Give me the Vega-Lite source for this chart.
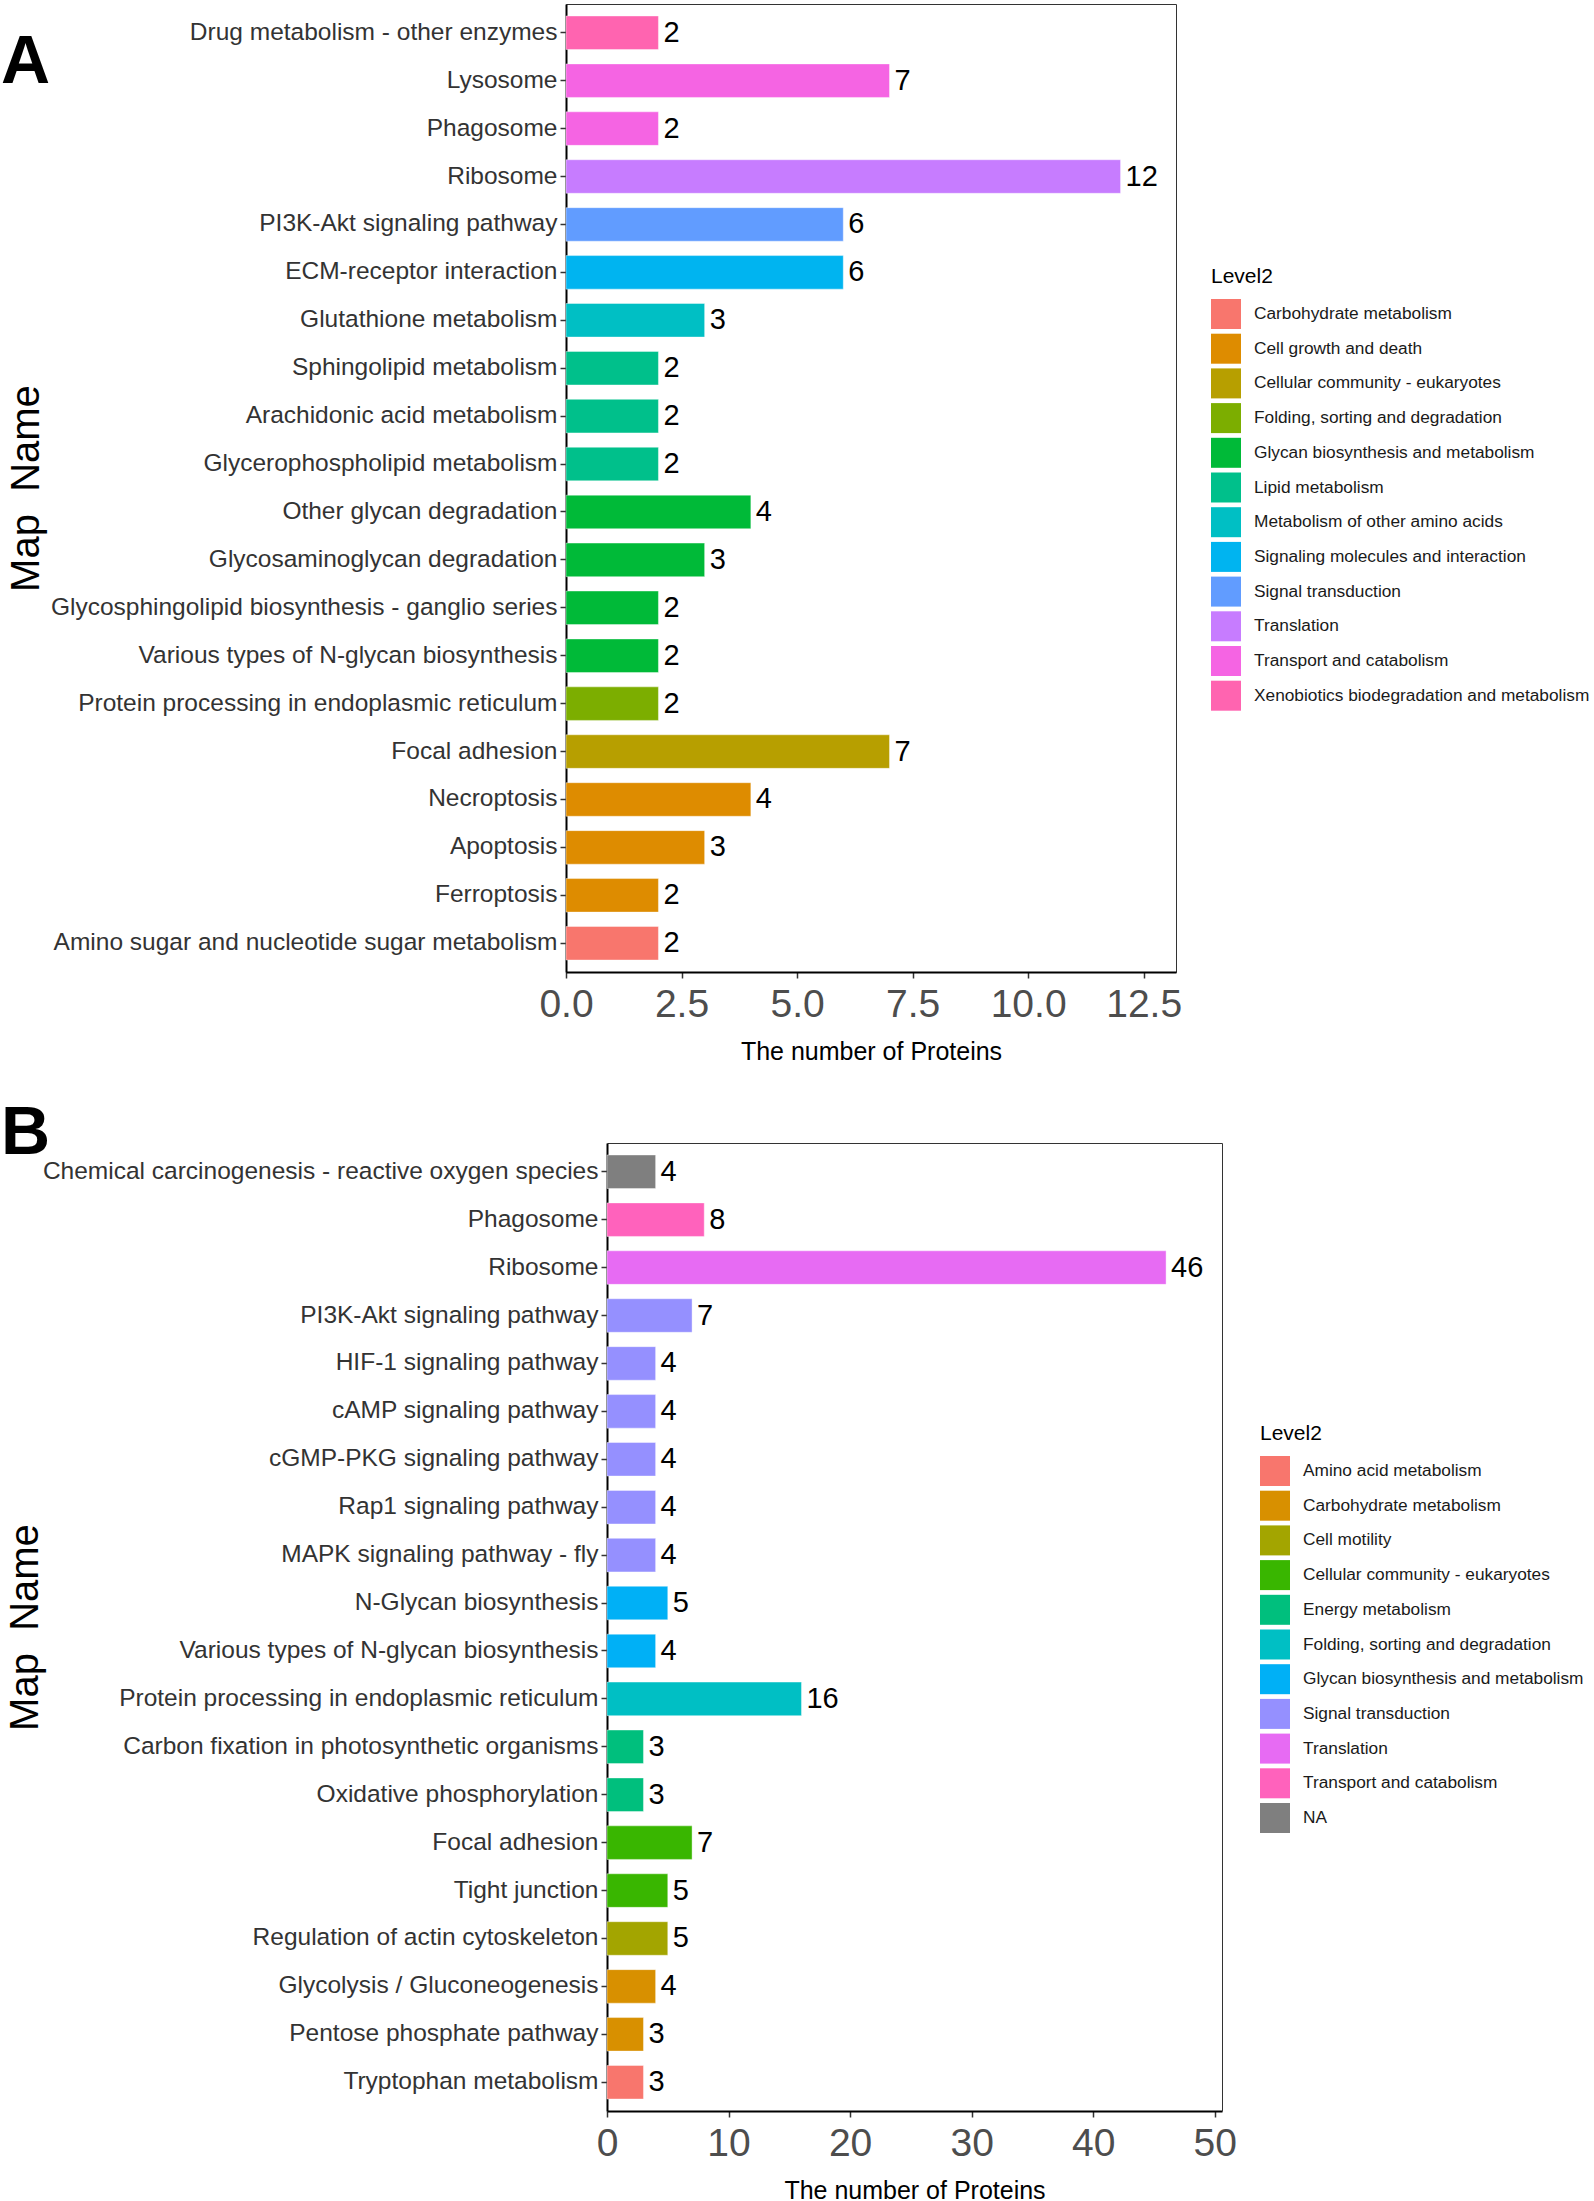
{
  "$schema": "https://vega.github.io/schema/vega-lite/v6.json",
  "background": "white",
  "padding": {"left": 0, "top": 3, "right": 0, "bottom": 0},
  "spacing": 35,
  "config": {
    "font": "Liberation Sans",
    "axis": {"grid": false, "maxExtent": 1000},
    "view": {"stroke": "#333333", "strokeWidth": 1},
    "legend": {
      "titleFont": "Liberation Sans", "titleFontSize": 21, "titleFontWeight": "normal", "titleColor": "black",
      "labelFont": "Liberation Sans", "labelFontSize": 17.3, "labelColor": "#1a1a1a",
      "symbolType": "square", "symbolSize": 900, "symbolStrokeWidth": 0, "symbolOpacity": 1,
      "labelOffset": 13, "rowPadding": 4.7, "titlePadding": 12, "padding": 0, "labelLimit": 1000
    }
  },
  "resolve": {"scale": {"color": "independent", "x": "independent", "y": "independent"}},
  "vconcat": [
    {
      "title": {"text": "A", "anchor": "start", "frame": "group", "orient": "top", "fontSize": 68, "fontWeight": "bold", "font": "Liberation Sans", "color": "black", "baseline": "alphabetic", "offset": 0, "dx": -565, "dy": 147},
      "width": 610,
      "height": 968,
      "data": {"values": [
        {"name": "Drug metabolism - other enzymes", "count": 2, "level2": "Xenobiotics biodegradation and metabolism"},
        {"name": "Lysosome", "count": 7, "level2": "Transport and catabolism"},
        {"name": "Phagosome", "count": 2, "level2": "Transport and catabolism"},
        {"name": "Ribosome", "count": 12, "level2": "Translation"},
        {"name": "PI3K-Akt signaling pathway", "count": 6, "level2": "Signal transduction"},
        {"name": "ECM-receptor interaction", "count": 6, "level2": "Signaling molecules and interaction"},
        {"name": "Glutathione metabolism", "count": 3, "level2": "Metabolism of other amino acids"},
        {"name": "Sphingolipid metabolism", "count": 2, "level2": "Lipid metabolism"},
        {"name": "Arachidonic acid metabolism", "count": 2, "level2": "Lipid metabolism"},
        {"name": "Glycerophospholipid metabolism", "count": 2, "level2": "Lipid metabolism"},
        {"name": "Other glycan degradation", "count": 4, "level2": "Glycan biosynthesis and metabolism"},
        {"name": "Glycosaminoglycan degradation", "count": 3, "level2": "Glycan biosynthesis and metabolism"},
        {"name": "Glycosphingolipid biosynthesis - ganglio series", "count": 2, "level2": "Glycan biosynthesis and metabolism"},
        {"name": "Various types of N-glycan biosynthesis", "count": 2, "level2": "Glycan biosynthesis and metabolism"},
        {"name": "Protein processing in endoplasmic reticulum", "count": 2, "level2": "Folding, sorting and degradation"},
        {"name": "Focal adhesion", "count": 7, "level2": "Cellular community - eukaryotes"},
        {"name": "Necroptosis", "count": 4, "level2": "Cell growth and death"},
        {"name": "Apoptosis", "count": 3, "level2": "Cell growth and death"},
        {"name": "Ferroptosis", "count": 2, "level2": "Cell growth and death"},
        {"name": "Amino sugar and nucleotide sugar metabolism", "count": 2, "level2": "Carbohydrate metabolism"}
      ]},
      "encoding": {
        "y": {
          "field": "name", "type": "nominal", "sort": null,
          "scale": {"paddingInner": 0.3, "paddingOuter": 0.25},
          "axis": {
            "title": "Map\u00a0\u00a0Name", "titleFont": "Liberation Sans", "titleFontSize": 40, "titleFontWeight": "normal", "titleColor": "black", "titlePadding": 4,
            "labelFont": "Liberation Sans", "labelFontSize": 24.5, "labelColor": "#333333", "labelLimit": 1000, "labelPadding": 3,
            "tickSize": 6, "tickColor": "#333333", "tickWidth": 1.5,
            "domainColor": "black", "domainWidth": 2
          }
        },
        "x": {
          "field": "count", "type": "quantitative",
          "scale": {"domain": [0, 13.2], "nice": false},
          "axis": {
            "title": "The number of Proteins", "titleFont": "Liberation Sans", "titleFontSize": 25, "titleFontWeight": "normal", "titleColor": "black", "titlePadding": 15,
            "values": [0, 2.5, 5, 7.5, 10, 12.5], "format": ".1f",
            "labelFont": "Liberation Sans", "labelFontSize": 39, "labelColor": "#4d4d4d", "labelPadding": 7, "labelFlush": false, "labelOverlap": false,
            "tickSize": 6, "tickColor": "#333333", "tickWidth": 1.5,
            "domainColor": "black", "domainWidth": 2
          }
        }
      },
      "layer": [
        {
          "mark": {"type": "bar", "stroke": "white", "strokeOpacity": 0.4, "strokeWidth": 1},
          "encoding": {
            "color": {
              "field": "level2", "type": "nominal", "title": "Level2",
              "scale": {
                "domain": ["Carbohydrate metabolism", "Cell growth and death", "Cellular community - eukaryotes", "Folding, sorting and degradation", "Glycan biosynthesis and metabolism", "Lipid metabolism", "Metabolism of other amino acids", "Signaling molecules and interaction", "Signal transduction", "Translation", "Transport and catabolism", "Xenobiotics biodegradation and metabolism"],
                "range": ["#F8766D", "#DE8C00", "#B79F00", "#7CAE00", "#00BA38", "#00C08B", "#00BFC4", "#00B4F0", "#619CFF", "#C77CFF", "#F564E3", "#FF64B0"]
              },
              "legend": {"orient": "none", "legendX": 645, "legendY": 262}
            }
          }
        },
        {
          "mark": {"type": "text", "align": "left", "baseline": "middle", "dx": 5, "font": "Liberation Sans", "fontSize": 29, "color": "black"},
          "encoding": {"text": {"field": "count", "type": "quantitative"}}
        }
      ]
    },
    {
      "title": {"text": "B", "anchor": "start", "frame": "group", "orient": "top", "fontSize": 68, "fontWeight": "bold", "font": "Liberation Sans", "color": "black", "baseline": "alphabetic", "offset": 0, "dx": -565, "dy": 79},
      "width": 656,
      "height": 968,
      "view": {"stroke": null},
      "data": {"values": [
        {"name": "Chemical carcinogenesis - reactive oxygen species", "count": 4, "level2": "NA"},
        {"name": "Phagosome", "count": 8, "level2": "Transport and catabolism"},
        {"name": "Ribosome", "count": 46, "level2": "Translation"},
        {"name": "PI3K-Akt signaling pathway", "count": 7, "level2": "Signal transduction"},
        {"name": "HIF-1 signaling pathway", "count": 4, "level2": "Signal transduction"},
        {"name": "cAMP signaling pathway", "count": 4, "level2": "Signal transduction"},
        {"name": "cGMP-PKG signaling pathway", "count": 4, "level2": "Signal transduction"},
        {"name": "Rap1 signaling pathway", "count": 4, "level2": "Signal transduction"},
        {"name": "MAPK signaling pathway - fly", "count": 4, "level2": "Signal transduction"},
        {"name": "N-Glycan biosynthesis", "count": 5, "level2": "Glycan biosynthesis and metabolism"},
        {"name": "Various types of N-glycan biosynthesis", "count": 4, "level2": "Glycan biosynthesis and metabolism"},
        {"name": "Protein processing in endoplasmic reticulum", "count": 16, "level2": "Folding, sorting and degradation"},
        {"name": "Carbon fixation in photosynthetic organisms", "count": 3, "level2": "Energy metabolism"},
        {"name": "Oxidative phosphorylation", "count": 3, "level2": "Energy metabolism"},
        {"name": "Focal adhesion", "count": 7, "level2": "Cellular community - eukaryotes"},
        {"name": "Tight junction", "count": 5, "level2": "Cellular community - eukaryotes"},
        {"name": "Regulation of actin cytoskeleton", "count": 5, "level2": "Cell motility"},
        {"name": "Glycolysis / Gluconeogenesis", "count": 4, "level2": "Carbohydrate metabolism"},
        {"name": "Pentose phosphate pathway", "count": 3, "level2": "Carbohydrate metabolism"},
        {"name": "Tryptophan metabolism", "count": 3, "level2": "Amino acid metabolism"}
      ]},
      "encoding": {
        "y": {
          "field": "name", "type": "nominal", "sort": null,
          "scale": {"paddingInner": 0.3, "paddingOuter": 0.25}
        },
        "x": {
          "field": "count", "type": "quantitative",
          "scale": {"domain": [0, 50.6], "nice": false, "range": [41, 656]}
        }
      },
      "layer": [
        {
          "mark": {"type": "bar", "stroke": "white", "strokeOpacity": 0.4, "strokeWidth": 1},
          "encoding": {
            "y": {
              "field": "name", "type": "nominal", "sort": null,
              "axis": {
                "offset": -41,
                "title": "Map\u00a0\u00a0Name", "titleFont": "Liberation Sans", "titleFontSize": 40, "titleFontWeight": "normal", "titleColor": "black", "titlePadding": -3,
                "labelFont": "Liberation Sans", "labelFontSize": 24.5, "labelColor": "#333333", "labelLimit": 1000, "labelPadding": 3,
                "tickSize": 6, "tickColor": "#333333", "tickWidth": 1.5,
                "domainColor": "black", "domainWidth": 2
              }
            },
            "x": {
              "field": "count", "type": "quantitative",
              "axis": {
                "title": "The number of Proteins", "titleFont": "Liberation Sans", "titleFontSize": 25, "titleFontWeight": "normal", "titleColor": "black", "titlePadding": 15,
                "values": [0, 10, 20, 30, 40, 50], "format": "d",
                "labelFont": "Liberation Sans", "labelFontSize": 39, "labelColor": "#4d4d4d", "labelPadding": 7, "labelFlush": false, "labelOverlap": false,
                "tickSize": 6, "tickColor": "#333333", "tickWidth": 1.5,
                "domainColor": "black", "domainWidth": 2
              }
            },
            "color": {
              "field": "level2", "type": "nominal", "title": "Level2",
              "scale": {
                "domain": ["Amino acid metabolism", "Carbohydrate metabolism", "Cell motility", "Cellular community - eukaryotes", "Energy metabolism", "Folding, sorting and degradation", "Glycan biosynthesis and metabolism", "Signal transduction", "Translation", "Transport and catabolism", "NA"],
                "range": ["#F8766D", "#D89000", "#A3A500", "#39B600", "#00BF7D", "#00BFC4", "#00B0F6", "#9590FF", "#E76BF3", "#FF62BC", "#7F7F7F"]
              },
              "legend": {"orient": "none", "legendX": 694, "legendY": 280}
            }
          }
        },
        {
          "mark": {"type": "text", "align": "left", "baseline": "middle", "dx": 5, "font": "Liberation Sans", "fontSize": 29, "color": "black"},
          "encoding": {
            "text": {"field": "count", "type": "quantitative"},
            "y": {
              "field": "name", "type": "nominal", "sort": null,
              "axis": {"orient": "right", "labels": false, "ticks": false, "title": null, "domainColor": "#333333", "domainWidth": 1}
            },
            "x": {
              "field": "count", "type": "quantitative",
              "axis": {"orient": "top", "labels": false, "ticks": false, "title": null, "domainColor": "#333333", "domainWidth": 1}
            }
          }
        }
      ],
      "resolve": {"axis": {"x": "independent", "y": "independent"}}
    }
  ]
}
